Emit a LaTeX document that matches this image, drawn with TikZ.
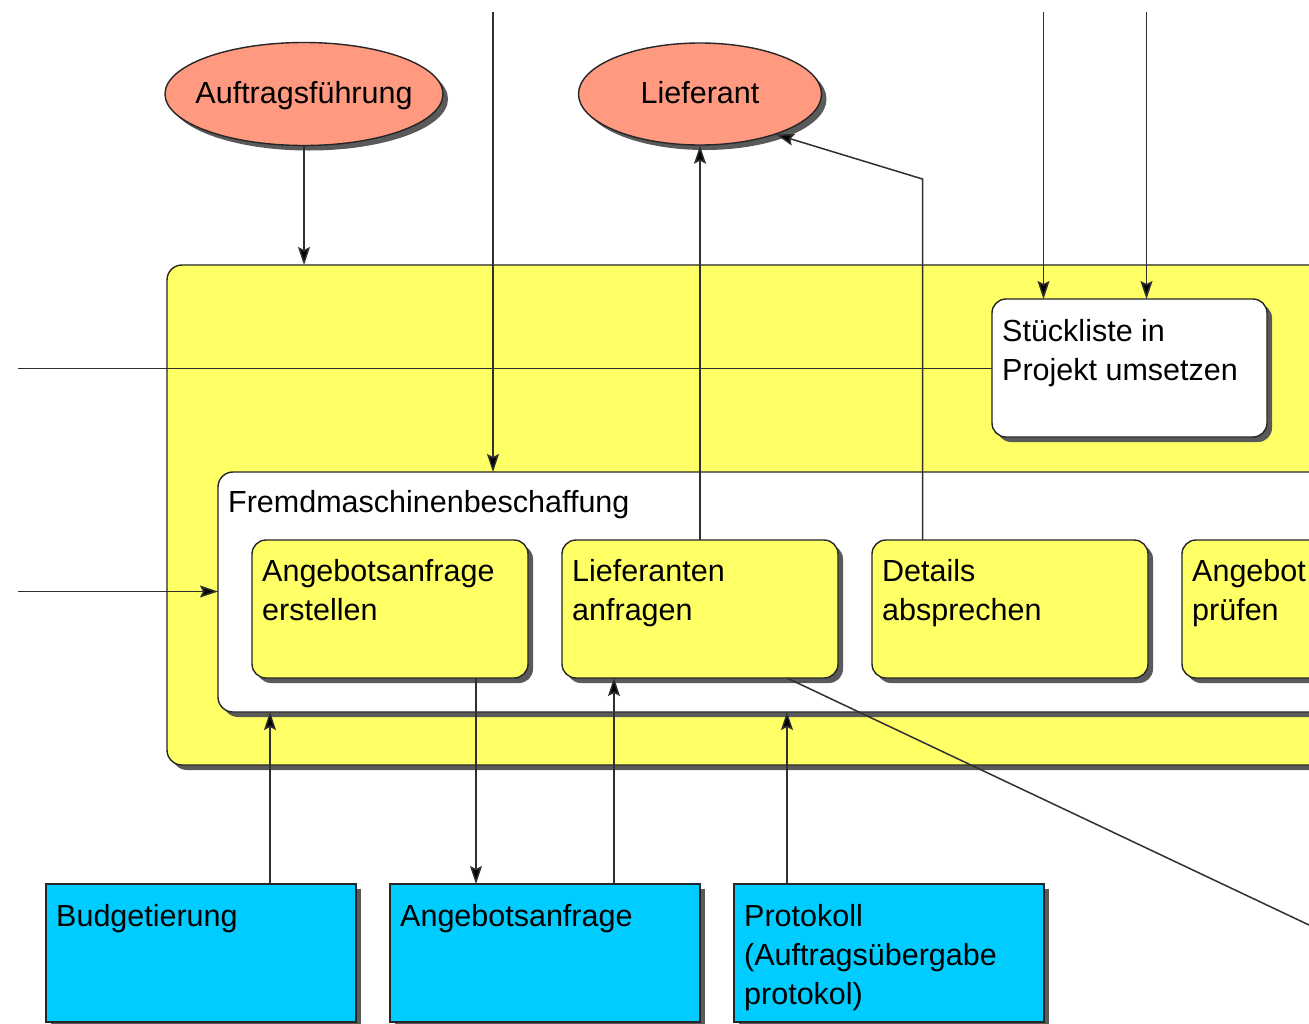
\documentclass[tikz,border=0pt]{standalone}
\usepackage{fontspec}
\setmainfont{Liberation Sans}
\usetikzlibrary{arrows.meta,shapes.geometric,shadows}

\definecolor{procyellow}{HTML}{FFFF66}
\definecolor{extsalmon}{HTML}{FF9980}
\definecolor{docblue}{HTML}{00CCFF}
\definecolor{edgegray}{HTML}{303030}
\definecolor{shade}{HTML}{5A5A5A}
\definecolor{rim}{HTML}{262626}

\begin{document}
\begin{tikzpicture}[x=1pt,y=-1pt,
  font=\fontsize{30.5}{39}\selectfont,
  boxshadow/.style={general shadow={fill=shade,draw=none,shadow xshift=5pt,shadow yshift=-5pt}},
  basebox/.style={draw=rim,line width=1.4pt,inner sep=0pt,outer sep=0pt,anchor=north west},
  areabox/.style={basebox,rounded corners=15pt,boxshadow},
  procbox/.style={basebox,rounded corners=14pt,fill=procyellow,boxshadow,
                  minimum width=276pt,minimum height=138pt},
  docbox/.style={basebox,fill=docblue,boxshadow,minimum width=310pt,minimum height=138pt},
  extnode/.style={ellipse,draw=rim,line width=1.4pt,fill=extsalmon,boxshadow,
                  inner xsep=-20pt,inner ysep=0pt,text height=23pt,text depth=5pt},
  lbl/.style={anchor=north west,inner sep=0pt,align=left},
  flow/.style={draw=edgegray,line width=1.5pt,-{Stealth[length=18pt,width=12pt,inset=3pt,fill=black]}},
  plain/.style={draw=edgegray,line width=1.5pt}]

\useasboundingbox (0,0) rectangle (1309,1023);
\fill[white] (0,0) rectangle (1309,1023);
\clip (0,0) rectangle (1309,1023);

% external partners
\node[extnode,minimum width=278pt,minimum height=103pt] (auf) at (304,94) {Auftragsführung};
\node[extnode,minimum width=243pt,minimum height=102pt] (lief) at (700,94) {Lieferant};

% enclosing process area
\node[areabox,fill=procyellow,minimum width=1200pt,minimum height=500pt] (outer) at (167,265) {};

% sub-process "Stückliste in Projekt umsetzen"
\node[procbox,fill=white,minimum width=275pt] (stl) at (992,299) {};
\node[lbl] (stlt) at (1002,319.5) {\rule{0pt}{22pt}Stückliste in\\Projekt umsetzen};

% sub-process group "Fremdmaschinenbeschaffung"
\node[areabox,fill=white,minimum width=1200pt,minimum height=240pt] (inner) at (218,472) {};
\node[lbl] (innert) at (228,489.7) {\rule{0pt}{22pt}Fremdmaschinenbeschaffung};

\node[procbox] (ae)  at (252,540) {};
\node[procbox] (lfa) at (562,540) {};
\node[procbox] (det) at (872,540) {};
\node[procbox] (apr) at (1182,540) {};
\node[lbl] (aet)  at (262,559.5) {\rule{0pt}{22pt}Angebotsanfrage\\erstellen};
\node[lbl] (lfat) at (572,559.5) {\rule{0pt}{22pt}Lieferanten\\anfragen};
\node[lbl] (dett) at (882,559.5) {\rule{0pt}{22pt}Details\\absprechen};
\node[lbl] (aprt) at (1192,559.5) {\rule{0pt}{22pt}Angebot\\prüfen};

% documents
\node[docbox] (bud)  at (46,884)  {};
\node[docbox] (anf)  at (390,884) {};
\node[docbox] (prot) at (734,884) {};
\node[lbl] (budt)  at (56,903.7)  {\rule{0pt}{22pt}Budgetierung};
\node[lbl] (anft)  at (400,903.7) {\rule{0pt}{22pt}Angebotsanfrage};
\node[lbl] (prott) at (744,903.7) {\rule{0pt}{22pt}Protokoll\\(Auftragsübergabe\\protokol)};

% free connector ends
\coordinate (inA) at (493,12);
\coordinate (inB) at (1043.5,12);
\coordinate (inC) at (1146.5,12);
\coordinate (inD) at (18,368.5);
\coordinate (inE) at (18,591.5);
\coordinate (bend) at (922.5,179);
\coordinate (outR) at (1345,942);

% attachment points on box edges
\coordinate (aeS)  at ([xshift=86pt]ae.south);
\coordinate (budN) at ([xshift=69pt]bud.north);
\coordinate (anfN) at ([xshift=69pt]anf.north);
\coordinate (proN) at ([xshift=-102pt]prot.north);
\coordinate (lfaS) at ([xshift=87pt]lfa.south);

% connectors
\draw[flow] (auf.south) -- (auf.south |- outer.north);
\draw[flow] (inA) -- (inA |- inner.north);
\draw[flow] (inB) -- (inB |- stl.north);
\draw[flow] (inC) -- (inC |- stl.north);
\draw[plain] (inD) -- (inD -| stl.west);
\draw[flow] (inE) -- (inE -| inner.west);
\draw[flow] (lfa.north) -- (lief.south);
\draw[flow] (bend |- det.north) -- (bend) -- (lief.-28);
\draw[flow] (aeS) -- (aeS |- anf.north);
\draw[flow] (budN) -- (budN |- inner.south);
\draw[flow] (anfN) -- (anfN |- lfa.south);
\draw[flow] (proN) -- (proN |- inner.south);
\draw[plain] (lfaS) -- (outR);
\end{tikzpicture}
\end{document}
